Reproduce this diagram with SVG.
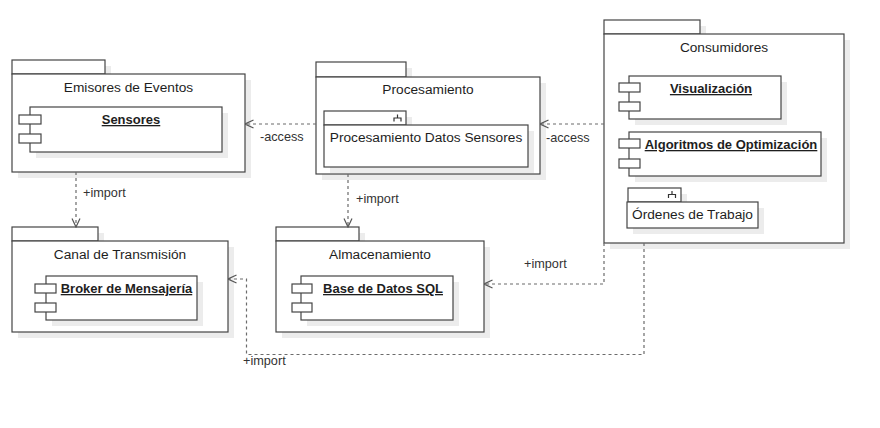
<svg xmlns="http://www.w3.org/2000/svg" width="880" height="428" viewBox="0 0 880 428">
<defs>
<style>
.s{fill:#fff;stroke:#454545;stroke-width:1.2}
.sh{fill:#ececec}
.t{font-family:"Liberation Sans",Arial,Helvetica,sans-serif;font-size:13.7px;fill:#1e1e1e;text-anchor:middle}
.b{font-weight:bold;font-size:13px;text-decoration:underline}
.c{fill:none;stroke:#6b6b6b;stroke-width:1.2;stroke-dasharray:3 3}
.l{font-family:"Liberation Sans",Arial,Helvetica,sans-serif;font-size:12.7px;fill:#333}
.ic{fill:none;stroke:#333;stroke-width:1.2}
</style>
<marker id="arr" viewBox="0 0 10 10" refX="9.5" refY="5" markerWidth="10" markerHeight="10" markerUnits="userSpaceOnUse" orient="auto">
<path d="M1,1 L9.5,5 L1,9" fill="none" stroke="#555" stroke-width="1.2"/>
</marker>
</defs>
<rect width="880" height="428" fill="#fff"/>

<g id="emisores">
<rect class="sh" x="18" y="66" width="93" height="14"/>
<rect class="sh" x="18" y="80" width="233" height="98"/>
<rect class="s" x="12" y="60" width="93" height="14"/>
<rect class="s" x="12" y="74" width="233" height="98"/>
<text class="t" x="128.5" y="92">Emisores de Eventos</text>
<g id="sensores">
<rect class="sh" x="36" y="113" width="192" height="45"/>
<rect class="s" x="30" y="107" width="192" height="45"/>
<rect class="s" x="19" y="115" width="22" height="9"/>
<rect class="s" x="19" y="134" width="22" height="9"/>
<text class="t b" x="131" y="124">Sensores</text>
</g>
</g>

<g id="procesamiento">
<rect class="sh" x="322" y="68" width="90" height="15"/>
<rect class="sh" x="322" y="83" width="224" height="97"/>
<rect class="s" x="316" y="62" width="90" height="15"/>
<rect class="s" x="316" y="77" width="224" height="97"/>
<text class="t" x="428" y="94">Procesamiento</text>
<g id="proc-datos">
<rect class="sh" x="330" y="117" width="82" height="14"/>
<rect class="sh" x="330" y="131" width="204" height="42"/>
<rect class="s" x="324" y="111" width="82" height="14"/>
<rect class="s" x="324" y="125" width="204" height="42"/>
<path class="ic" d="M397.5,114.5 V118 M394,121.5 V118 H401 V121.5"/>
<text class="t" x="426" y="142">Procesamiento Datos Sensores</text>
</g>
</g>

<g id="consumidores">
<rect class="sh" x="610" y="26" width="96" height="14"/>
<rect class="sh" x="610" y="40" width="240" height="209"/>
<rect class="s" x="604" y="20" width="96" height="14"/>
<rect class="s" x="604" y="34" width="240" height="209"/>
<text class="t" x="724" y="52">Consumidores</text>
<g id="visualizacion">
<rect class="sh" x="635" y="82" width="152" height="43"/>
<rect class="s" x="629" y="76" width="152" height="43"/>
<rect class="s" x="619" y="83" width="21" height="9"/>
<rect class="s" x="619" y="102" width="21" height="9"/>
<text class="t b" x="711" y="93">Visualización</text>
</g>
<g id="algoritmos">
<rect class="sh" x="635" y="138" width="192" height="44"/>
<rect class="s" x="629" y="132" width="192" height="44"/>
<rect class="s" x="619" y="139" width="21" height="9"/>
<rect class="s" x="619" y="159" width="21" height="9"/>
<text class="t b" x="731" y="149">Algoritmos de Optimización</text>
</g>
<g id="ordenes">
<rect class="sh" x="634" y="194" width="53" height="14"/>
<rect class="sh" x="633" y="208" width="131" height="26"/>
<rect class="s" x="628" y="188" width="53" height="14"/>
<rect class="s" x="627" y="202" width="131" height="26"/>
<path class="ic" d="M672,191 V194.5 M668.5,198 V194.5 H675.5 V198"/>
<text class="t" x="692.5" y="219">Órdenes de Trabajo</text>
</g>
</g>

<g id="canal">
<rect class="sh" x="18" y="233" width="86" height="14"/>
<rect class="sh" x="18" y="247" width="216" height="91"/>
<rect class="s" x="12" y="227" width="86" height="14"/>
<rect class="s" x="12" y="241" width="216" height="91"/>
<text class="t" x="120" y="259">Canal de Transmisión</text>
<g id="broker">
<rect class="sh" x="52" y="282" width="151" height="44"/>
<rect class="s" x="46" y="276" width="151" height="44"/>
<rect class="s" x="35" y="284" width="21" height="9"/>
<rect class="s" x="35" y="303" width="21" height="9"/>
<text class="t b" x="126.5" y="293">Broker de Mensajería</text>
</g>
</g>

<g id="almacenamiento">
<rect class="sh" x="282" y="233" width="83" height="14"/>
<rect class="sh" x="282" y="247" width="208" height="91"/>
<rect class="s" x="276" y="227" width="83" height="14"/>
<rect class="s" x="276" y="241" width="208" height="91"/>
<text class="t" x="380" y="259">Almacenamiento</text>
<g id="basedatos">
<rect class="sh" x="307" y="282" width="152" height="44"/>
<rect class="s" x="301" y="276" width="152" height="44"/>
<rect class="s" x="292" y="284" width="20" height="9"/>
<rect class="s" x="292" y="303" width="20" height="9"/>
<text class="t b" x="383" y="293">Base de Datos SQL</text>
</g>
</g>

<g id="connectors">
<path class="c" d="M316,124 H245" marker-end="url(#arr)"/>
<text class="l" x="260" y="141">-access</text>
<path class="c" d="M604,124 H540" marker-end="url(#arr)"/>
<text class="l" x="546" y="142">-access</text>
<path class="c" d="M76,172 V227" marker-end="url(#arr)"/>
<text class="l" x="83" y="197">+import</text>
<path class="c" d="M348,174 V227" marker-end="url(#arr)"/>
<text class="l" x="356" y="203">+import</text>
<path class="c" d="M604,243 V284 H484" marker-end="url(#arr)"/>
<text class="l" x="524" y="268">+import</text>
<path class="c" d="M644,243 V354.5 H246.5 V279 H228" marker-end="url(#arr)"/>
<text class="l" x="243" y="365">+import</text>
</g>
</svg>
